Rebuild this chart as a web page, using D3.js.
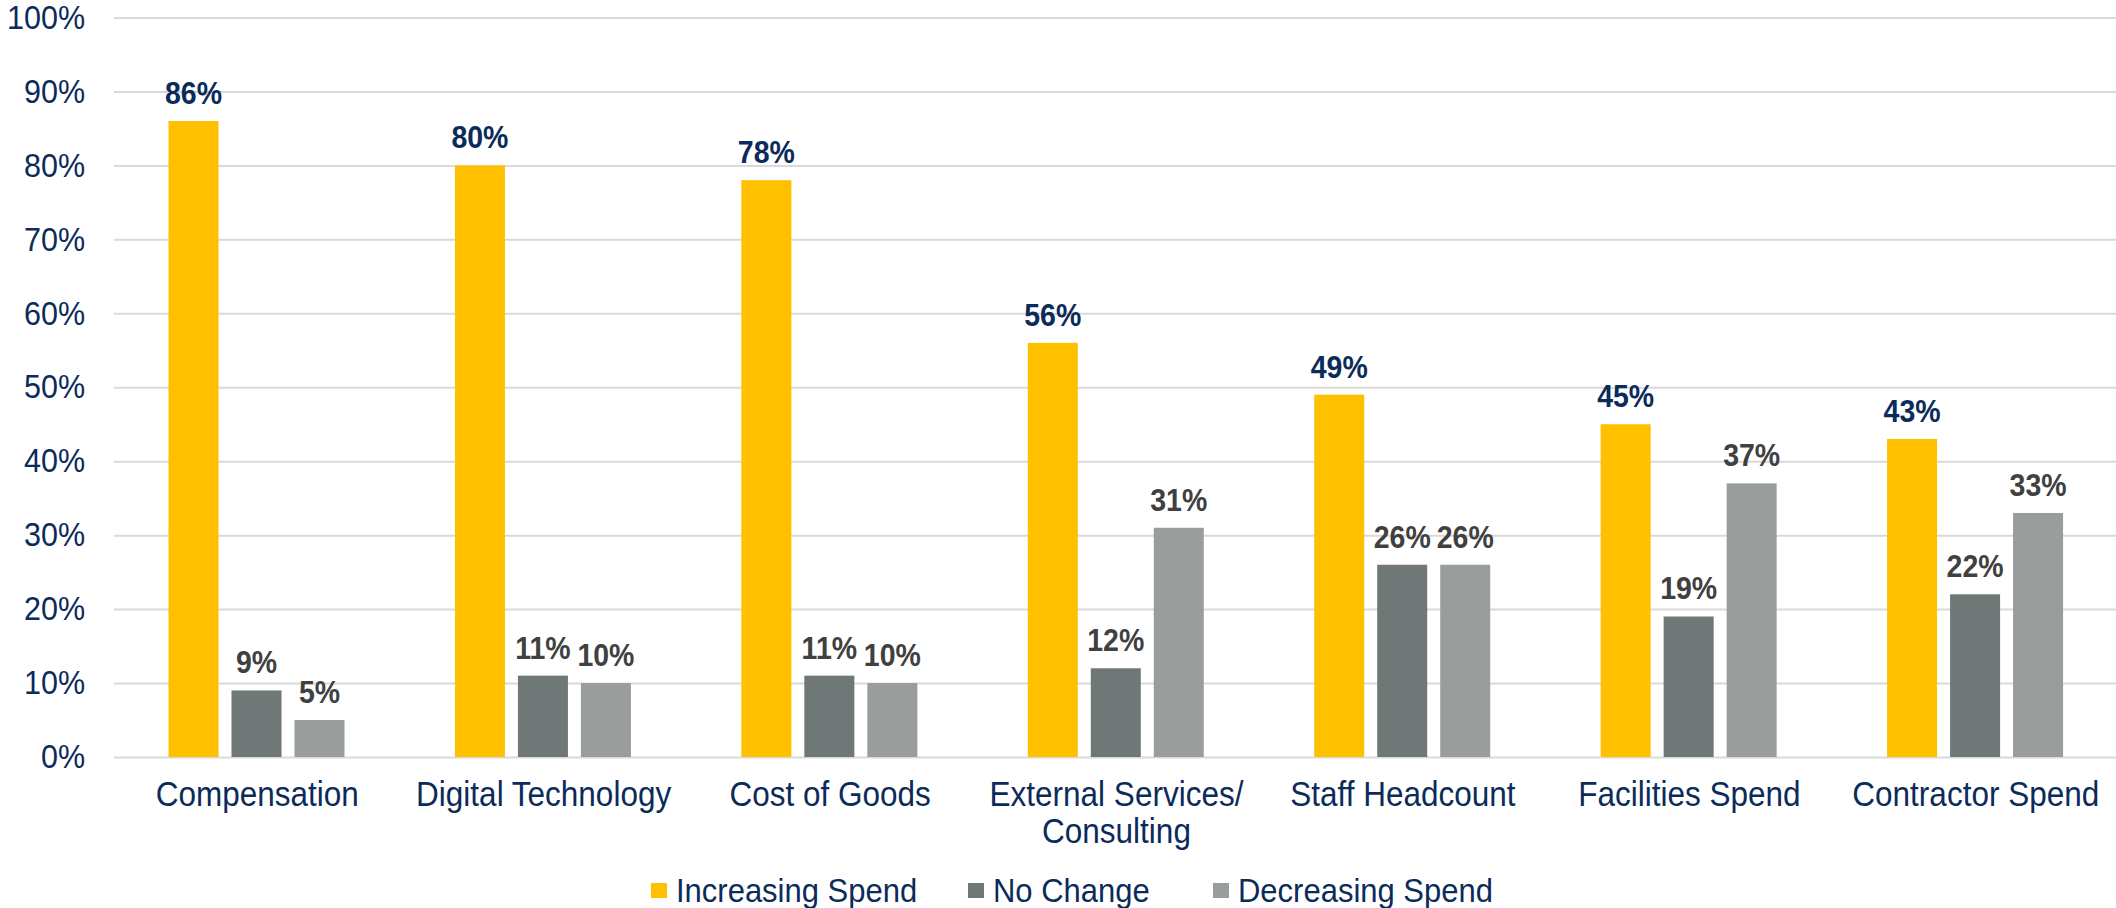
<!DOCTYPE html>
<html>
<head>
<meta charset="utf-8">
<script src="https://cdn.jsdelivr.net/npm/d3@7"></script>
<style>
  body { margin: 0; background: #fff; }
  svg text { font-family: "Liberation Sans", Arial, sans-serif; }
</style>
</head>
<body>
<script>
'use strict';

// Spend outlook by category, three series per group.
var categories = ["Compensation", "Digital Technology", "Cost of Goods",
    "External Services/\nConsulting", "Staff Headcount", "Facilities Spend",
    "Contractor Spend"];
var series = ["Increasing Spend", "No Change", "Decreasing Spend"];
var increasing = [86, 80, 78, 56, 49, 45, 43];
var noChange = [9, 11, 11, 12, 26, 19, 22];
var decreasing = [5, 10, 10, 31, 26, 37, 33];
var yTicks = [0, 10, 20, 30, 40, 50, 60, 70, 80, 90, 100];

var values = [increasing, noChange, decreasing];
var barColors = ["#FFC000", "#6F7877", "#999E9D"];
var labelColors = ["#0B2B5B", "#404040", "#404040"];
var navy = "#0B2B5B";

var width = 2116, height = 908;

// the source text is a little taller than plain Arial, stretch it a bit
// around its own baseline
function stretch(sel, yfn) {
    sel.attr("transform", function(d, i) {
        var by = yfn ? yfn(d, i) : 0;
        return "translate(0," + by + ") scale(1,1.1) translate(0," + (-by) + ")";
    });
}

var svg = d3.select("body").append("svg")
    .attr("width", width)
    .attr("height", height);

// scales
var x0 = d3.scaleBand().domain(categories).range([114, 2119]);
var x1 = d3.scaleBand().domain(series)
    .range([54.5, 230.5]).paddingInner(0.206);
var y = d3.scaleLinear().domain([0, 100]).range([757, 17.5]);

// grid lines
svg.append("g")
    .attr("class", "grid")
    .attr("transform", "translate(114,0)")
    .call(d3.axisLeft(y).tickValues(yTicks).tickFormat("").tickSize(-(width - 114)))
    .call(function(g) { g.select(".domain").remove(); })
    .selectAll("line")
    .attr("stroke", "#D9D9D9")
    .attr("stroke-width", 2);

// y axis labels
svg.append("g")
    .attr("transform", "translate(85,0)")
    .call(d3.axisLeft(y).tickValues(yTicks).tickSize(0).tickPadding(0)
        .tickFormat(function(d) { return d + "%"; }))
    .call(function(g) { g.select(".domain").remove(); })
    .selectAll("text")
    .attr("fill", navy)
    .style("font-size", "30.5px")
    .call(stretch);

// bars
var groups = svg.selectAll(".group")
    .data(categories)
    .enter().append("g")
    .attr("class", "group")
    .attr("transform", function(d) { return "translate(" + x0(d) + ",0)"; });

series.forEach(function(s, si) {
    groups.append("rect")
        .attr("x", x1(s))
        .attr("width", x1.bandwidth())
        .attr("y", function(d, i) { return y(values[si][i]); })
        .attr("height", function(d, i) { return y(0) - y(values[si][i]); })
        .attr("fill", barColors[si]);

    var lbl = function(d, i) { return y(values[si][i]) - 17; };
    groups.append("text")
        .attr("x", x1(s) + x1.bandwidth() / 2)
        .attr("y", lbl)
        .attr("text-anchor", "middle")
        .attr("fill", labelColors[si])
        .style("font-size", "28.5px")
        .style("font-weight", "bold")
        .text(function(d, i) { return values[si][i] + "%"; })
        .call(stretch, lbl);
});

// category labels (can wrap onto two lines)
groups.append("text")
    .attr("x", x0.bandwidth() / 2)
    .attr("y", 806)
    .attr("text-anchor", "middle")
    .attr("fill", navy)
    .style("font-size", "31.5px")
    .call(stretch, function() { return 806; })
    .selectAll("tspan")
    .data(function(d) { return d.split("\n"); })
    .enter().append("tspan")
    .attr("x", x0.bandwidth() / 2)
    .attr("dy", function(d, i) { return i ? 34 : 0; })
    .text(function(d) { return d; });

// legend
var legendX = [651, 968, 1213];
var legend = svg.selectAll(".legend")
    .data(series)
    .enter().append("g")
    .attr("class", "legend")
    .attr("transform", function(d, i) { return "translate(" + legendX[i] + ",890.5)"; });

legend.append("rect")
    .attr("x", 0)
    .attr("y", -7.5)
    .attr("width", 16)
    .attr("height", 15)
    .attr("fill", function(d, i) { return barColors[i]; });

legend.append("text")
    .attr("x", 25)
    .attr("y", 11)
    .attr("fill", navy)
    .style("font-size", "31px")
    .text(function(d) { return d; })
    .call(stretch, function() { return 11; });
</script>
</body>
</html>
